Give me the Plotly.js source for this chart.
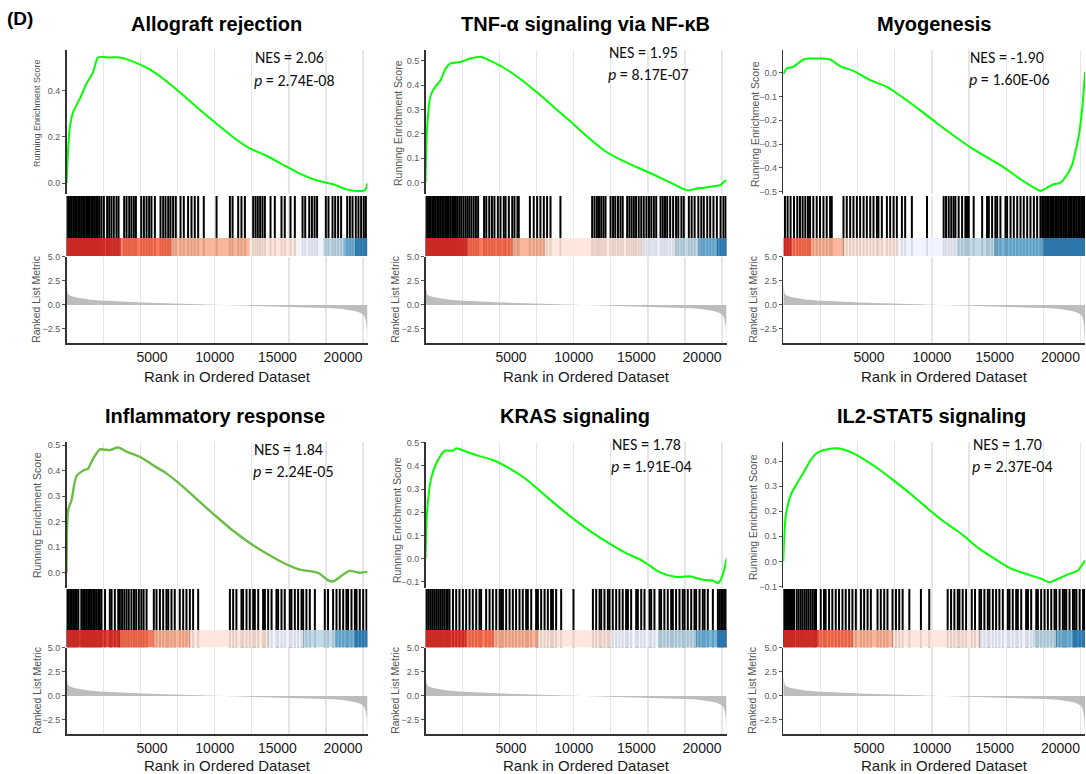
<!DOCTYPE html>
<html><head><meta charset="utf-8">
<script src="https://cdn.plot.ly/plotly-3.0.1.min.js"></script>
<style>html,body{margin:0;padding:0;background:#fff;}#chart{width:1086px;height:774px;}</style>
</head><body><div id="chart"></div>
<script>
// ---------------- DATA ----------------
const panelLabel = '(D)';
const titles = ['Allograft rejection', 'TNF-α signaling via NF-κB', 'Myogenesis',
                'Inflammatory response', 'KRAS signaling', 'IL2-STAT5 signaling'];
const nesValues = ['2.06', '1.95', '-1.90', '1.84', '1.78', '1.70'];
const pValues = ['2.74E-08', '8.17E-07', '1.60E-06', '2.24E-05', '1.91E-04', '2.37E-04'];
const nGenes = 20300;
const rankTickLabels = ['5000', '10000', '15000', '20000'];
const rankTickPos = [5770, 10000, 14220, 18650];
const esAxisTitle = 'Running Enrichment Score';
const rlmAxisTitle = 'Ranked List Metric';
const rankAxisTitle = 'Rank in Ordered Dataset';
const rlmTicks = [-2.5, 0, 2.5, 5];

// ranked list metric (shared gene list)
const metricRank = [0, 30, 80, 150, 300, 600, 1000, 1500, 2250, 3400, 4500, 5600, 6700, 7600, 8400, 9000, 9600, 10400, 11000, 11500, 12500, 13500, 14600, 15700, 16500, 17200, 18000, 18600, 19100, 19500, 19800, 20000, 20100, 20180, 20240, 20280, 20300];
const metricValue = [2.2, 1.6, 1.25, 1.05, 0.93, 0.8, 0.68, 0.57, 0.46, 0.36, 0.28, 0.22, 0.17, 0.13, 0.09, 0.05, 0.02, -0.02, -0.05, -0.08, -0.11, -0.14, -0.17, -0.21, -0.25, -0.29, -0.35, -0.42, -0.52, -0.65, -0.82, -1.0, -1.2, -1.6, -2.2, -3.0, -3.9];

// running enrichment scores
const esRank1 = [0, 225, 450, 900, 1350, 1800, 2135, 2920, 3600, 4500, 5620, 6740, 7870, 8990, 10120, 11240, 12360, 13490, 14610, 15740, 16860, 17980, 18880, 19560, 20120, 20300];
const esScore1 = [0, 0.242, 0.307, 0.365, 0.43, 0.481, 0.543, 0.543, 0.543, 0.525, 0.491, 0.44, 0.38, 0.317, 0.257, 0.199, 0.151, 0.119, 0.08, 0.042, 0.013, -0.004, -0.026, -0.033, -0.03, 0.0];
const esRank2 = [0, 112, 337, 674, 1010, 1350, 1686, 2360, 3035, 3710, 4380, 5280, 6400, 7530, 8650, 9780, 10900, 12030, 13150, 14270, 15400, 16520, 17650, 18320, 18770, 19450, 19900, 20190, 20300];
const esScore2 = [0, 0.23, 0.356, 0.395, 0.42, 0.468, 0.49, 0.496, 0.51, 0.517, 0.5, 0.472, 0.426, 0.37, 0.311, 0.251, 0.189, 0.133, 0.094, 0.063, 0.032, 0.0, -0.032, -0.024, -0.021, -0.015, -0.01, 0.007, 0.008];
const esRank3 = [0, 225, 674, 1350, 1800, 2470, 3150, 3820, 4720, 5845, 6970, 8090, 9220, 10340, 11460, 12590, 13710, 14840, 15960, 16860, 17310, 17760, 18210, 18660, 19110, 19450, 19670, 19900, 20120, 20280, 20300];
const esScore3 = [-0.006, 0.018, 0.025, 0.056, 0.06, 0.06, 0.056, 0.028, 0.008, -0.031, -0.059, -0.106, -0.158, -0.212, -0.264, -0.314, -0.356, -0.398, -0.448, -0.483, -0.497, -0.483, -0.469, -0.462, -0.427, -0.384, -0.328, -0.257, -0.144, -0.017, 0.004];
const esRank4 = [0, 112, 337, 674, 1124, 1460, 1686, 2020, 2250, 2920, 3480, 4050, 4945, 5845, 6740, 7870, 8990, 10120, 11240, 12360, 13490, 14610, 15740, 16630, 17080, 17650, 17980, 18660, 19110, 19780, 20300];
const esScore4 = [0, 0.245, 0.284, 0.378, 0.40, 0.408, 0.435, 0.467, 0.483, 0.48, 0.49, 0.474, 0.454, 0.421, 0.389, 0.336, 0.277, 0.219, 0.164, 0.116, 0.075, 0.039, 0.012, 0.004, -0.004, -0.03, -0.034, -0.007, 0.007, 0.0, 0.003];
const esRank5 = [0, 112, 382, 720, 1057, 1281, 1843, 2070, 2740, 3640, 4540, 5665, 6790, 7910, 9040, 10160, 11280, 12410, 13530, 14660, 15780, 16900, 17800, 18700, 19380, 19720, 19940, 20160, 20300];
const esScore5 = [0, 0.209, 0.346, 0.41, 0.447, 0.465, 0.465, 0.476, 0.461, 0.442, 0.425, 0.389, 0.342, 0.281, 0.22, 0.163, 0.111, 0.065, 0.024, -0.01, -0.058, -0.079, -0.076, -0.091, -0.094, -0.105, -0.086, -0.043, 0.0];
const esRank6 = [0, 157, 495, 944, 1394, 1843, 2293, 2967, 3642, 4316, 5215, 6340, 7460, 8590, 9710, 10840, 11960, 13080, 14210, 15330, 16460, 17350, 17920, 18480, 19150, 19830, 20160, 20300];
const esScore6 = [0, 0.177, 0.264, 0.313, 0.357, 0.404, 0.433, 0.447, 0.451, 0.441, 0.415, 0.371, 0.321, 0.268, 0.211, 0.157, 0.111, 0.055, 0.011, -0.029, -0.052, -0.069, -0.083, -0.069, -0.052, -0.036, -0.009, 0.004];

// gene-set hit positions (ranks)
const hits1 = [20,130,240,350,460,570,680,790,900,1010,1120,1230,1340,1450,1560,1670,1780,1890,2000,2110,2220,2360,2520,2740,2880,3030,3190,3370,3510,3890,4050,4230,4380,4540,4680,5040,5220,5400,5575,5730,5960,6340,6520,6680,6860,7010,7190,7370,7690,7910,8200,8430,8650,8880,9260,10120,11020,11200,11580,11800,12030,12590,12750,12900,13060,13220,13380,13760,14050,14500,14720,15110,15400,15920,16100,16370,16550,16730,16900,17490,17670,17940,18120,18320,18520,18930,19110,19290,19510,19690,19870,20050,20190];
const hits2 = [20,130,240,350,460,570,680,790,900,1010,1120,1230,1340,1450,1560,1670,1800,1920,2050,2170,2300,2420,2560,2700,2830,2960,3100,3250,3400,3550,3950,4100,4300,4480,4650,4880,5060,5280,5400,5620,5850,6000,6200,6290,7040,7300,7530,7750,7980,8200,8430,9100,11240,11400,11560,11700,11850,12000,12140,12480,12650,12800,12980,13150,13300,13600,13750,13900,14050,14200,14380,14550,14720,14900,15070,15230,15400,15560,15850,16000,16150,16300,16500,16700,16900,17050,17260,17420,17760,17950,18150,18400,18600,18770,19000,19200,19420,19650,19900,20100,20250];
const hits3 = [110,290,490,720,940,1120,1300,1480,1660,1800,2020,2250,2470,2700,2920,3150,3260,4050,4270,4500,4720,4950,5170,5400,5620,5850,6070,6300,6400,6630,6970,7190,7420,7640,7980,8200,8650,9670,10790,10950,11130,11300,11460,11580,11800,12030,12250,12360,12480,12810,13380,13710,13830,14050,14270,14390,14610,14950,15060,15290,15510,15740,15960,16180,16410,16630,16860,17080,17300,17420,17530,17640,17750,17860,17970,18080,18190,18300,18410,18520,18630,18740,18850,18960,19070,19180,19290,19400,19510,19620,19730,19840,19950,20060,20170,20280];
const hits4 = [30,140,250,360,470,580,690,800,1000,1120,1240,1350,1460,1580,1690,1800,1910,2020,2140,2250,2360,2600,2920,3040,3260,3490,3600,3750,3900,4050,4200,4380,4550,4700,4880,5050,5200,5400,5890,6070,6300,6520,6740,6860,7080,7300,7640,7870,8090,8320,8540,8880,11020,11240,11460,11800,11910,12140,12360,12590,12700,12930,13260,13380,13600,13830,14160,14270,14500,14720,15060,15170,15400,15620,15850,15960,16180,16410,16750,17420,17640,17980,18210,18430,18660,18880,18990,19220,19450,19560,19780,20010,20230];
const hits5 = [45,180,315,450,585,720,855,990,1125,1260,1400,1500,1620,1850,2070,2290,2520,2740,2970,3190,3420,3640,3750,4090,4320,4540,4770,5000,5100,5220,5440,5670,5890,6110,6340,6560,6790,6900,7130,7460,7580,7800,8030,8250,8470,8590,8810,9150,9980,11290,11510,11740,11850,12070,12300,12410,12630,12860,13080,13300,13530,13650,13870,14210,14320,14550,14770,15110,15220,15440,15780,15890,16110,16340,16570,16680,16900,17130,17350,17470,17690,17920,18140,18250,18480,18700,18820,19040,19380,19720,19830,19940,20050,20160,20270];
const hits6 = [45,180,315,450,585,720,900,1030,1170,1300,1440,1570,1700,1840,1980,2110,2200,2520,2740,2850,3080,3300,3530,3750,3980,4200,4430,4650,4880,5220,5440,5670,5890,6340,6560,6790,7010,7350,7580,7800,8030,8480,9260,9820,11060,11290,11510,11740,11850,12070,12300,12680,12900,13200,13310,13530,13760,13870,14100,14320,14540,14770,15110,15220,15440,15670,15780,16010,16340,16460,16680,17020,17130,17350,17580,17800,18030,18250,18360,18590,18810,18930,19040,19260,19490,19600,19720,19940,20170,20290];

// colour-bar block edges (ranks) and block colours
const blockEdges1 = [0, 3710, 7080, 12360, 15510, 17310, 18660, 19450, 20300];
const blockEdges2 = [0, 2810, 5845, 8090, 14610, 16790, 18430, 19670, 20300];
const blockEdges3 = [0, 560, 1910, 4050, 7760, 11690, 14210, 17530, 20300];
const blockEdges4 = [0, 3600, 5845, 8320, 13600, 15960, 18100, 19450, 20300];
const blockEdges5 = [0, 2740, 4650, 7580, 12520, 15670, 18250, 19710, 20300];
const blockEdges6 = [0, 2400, 4650, 7350, 13200, 16790, 18370, 19490, 20300];
const blockColors = ['#DE2D26', '#FB6A4A', '#FCAE91', '#FEE5D9', '#EFF3FF', '#BDD7E7', '#6BAED6', '#3182BD'];

const esRanks = [esRank1, esRank2, esRank3, esRank4, esRank5, esRank6];
const esScores = [esScore1, esScore2, esScore3, esScore4, esScore5, esScore6];
const hitSets = [hits1, hits2, hits3, hits4, hits5, hits6];
const blockEdgeSets = [blockEdges1, blockEdges2, blockEdges3, blockEdges4, blockEdges5, blockEdges6];

// ---------------- LAYOUT / STYLE ----------------
const W = 1086, H = 774;
const fx = p => p / W;
const fy = p => 1 - p / H;
const cols = [[66.5, 367.5], [425.5, 726.5], [783.3, 1085]];
const rows = [
  {es: [50, 194], hits: [196, 256], rlm: [256.7, 343], titleY: 24, xTitleY: 376},
  {es: [441.7, 587.5], hits: [589, 647.5], rlm: [647.7, 734], titleY: 416, xTitleY: 765}
];
const pstyle = [
  {row: 0, col: 0, esRange: [-0.046, 0.575], dtick: 0.2, titleX: 216, nesX: 253, nesY: 57, pY: 80, esTX: 37, esTY: 113, esTS: 9, rlmTX: 36, line: '#00ff00'},
  {row: 0, col: 1, esRange: [-0.047, 0.545], dtick: 0.1, titleX: 585, nesX: 607, nesY: 53, pY: 75, esTX: 398, esTY: 123, esTS: 10.5, rlmTX: 395, line: '#00ff00'},
  {row: 0, col: 2, esRange: [-0.51, 0.096], dtick: 0.1, titleX: 934, nesX: 968, nesY: 57, pY: 79, esTX: 755, esTY: 124, esTS: 10.5, rlmTX: 753, line: '#00ff00'},
  {row: 1, col: 0, esRange: [-0.058, 0.513], dtick: 0.1, titleX: 215, nesX: 252, nesY: 449, pY: 471, esTX: 37, esTY: 515, esTS: 10.5, rlmTX: 37, line: '#6cbd45'},
  {row: 1, col: 1, esRange: [-0.124, 0.504], dtick: 0.1, titleX: 575, nesX: 610, nesY: 444, pY: 466, esTX: 397, esTY: 520, esTS: 10.5, rlmTX: 395, line: '#00ff00'},
  {row: 1, col: 2, esRange: [-0.104, 0.477], dtick: 0.1, titleX: 931, nesX: 971, nesY: 444, pY: 466, esTX: 753, esTY: 517, esTS: 10.5, rlmTX: 752, line: '#00ff00'}
];
const ARIAL = 'Liberation Sans, Arial, sans-serif';
const NESFONT = 'Carlito, Lato, sans-serif';
const gridVals = [];
for (let g = 2500; g < nGenes; g += 2500) gridVals.push(g);

function rgba(hex, a) {
  const n = parseInt(hex.slice(1), 16);
  return `rgba(${(n >> 16) & 255},${(n >> 8) & 255},${n & 255},${a})`;
}

const traces = [];
const layout = {
  width: W, height: H, margin: {l: 0, r: 0, t: 0, b: 0},
  paper_bgcolor: '#fff', plot_bgcolor: 'rgba(0,0,0,0)',
  showlegend: false, annotations: []
};

layout.annotations.push({text: '<b>' + panelLabel + '</b>', xref: 'paper', yref: 'paper', x: fx(5), y: fy(18),
  xanchor: 'left', yanchor: 'middle', showarrow: false, font: {family: ARIAL, size: 19, color: '#000'}});

pstyle.forEach((s, i) => {
  const r = rows[s.row], c = cols[s.col];
  const xn = i + 1;
  const xa = 'x' + (xn === 1 ? '' : xn);
  const yEs = 3 * i + 1, yHit = 3 * i + 2, yRlm = 3 * i + 3;
  const yaEs = 'y' + (yEs === 1 ? '' : yEs), yaHit = 'y' + yHit, yaRlm = 'y' + yRlm;

  layout['xaxis' + (xn === 1 ? '' : xn)] = {
    domain: [fx(c[0]), fx(c[1])], anchor: yaRlm, range: [0, nGenes],
    tickmode: 'array', tickvals: rankTickPos, ticktext: rankTickLabels,
    ticks: 'outside', ticklen: 1, tickcolor: 'rgba(0,0,0,0)',
    tickfont: {family: ARIAL, size: 14, color: '#1a1a1a'},
    showgrid: false, zeroline: false,
    showline: true, linecolor: '#333', linewidth: 1.5,
    minor: {tickmode: 'array', tickvals: gridVals, showgrid: true, gridcolor: '#e6e6e6', gridwidth: 1.2, ticks: ''},
    fixedrange: true
  };
  layout['yaxis' + (yEs === 1 ? '' : yEs)] = {
    domain: [fy(r.es[1]), fy(r.es[0])], anchor: xa, range: s.esRange,
    dtick: s.dtick, tick0: 0, tickformat: '.1f',
    ticks: 'outside', ticklen: 3, tickcolor: '#555', tickwidth: 1,
    tickfont: {family: ARIAL, size: 9, color: '#5a5a5a'},
    showgrid: false, zeroline: false, showline: true, linecolor: '#333', linewidth: 1.5, fixedrange: true
  };
  layout['yaxis' + yHit] = {
    domain: [fy(r.hits[1]), fy(r.hits[0])], anchor: xa, range: [0, 1],
    visible: false, showgrid: false, zeroline: false, fixedrange: true
  };
  layout['yaxis' + yRlm] = {
    domain: [fy(r.rlm[1]), fy(r.rlm[0])], anchor: xa, range: [-3.97, 5.02],
    tickmode: 'array', tickvals: rlmTicks, tickformat: '.1f',
    ticks: 'outside', ticklen: 3, tickcolor: '#555', tickwidth: 1,
    tickfont: {family: ARIAL, size: 9, color: '#5a5a5a'},
    showgrid: false, zeroline: false, showline: true, linecolor: '#333', linewidth: 1.5, fixedrange: true
  };

  // running enrichment score
  traces.push({type: 'scatter', mode: 'lines', x: esRanks[i], y: esScores[i], xaxis: xa, yaxis: yaEs,
    line: {color: s.line, width: i === 3 ? 2.4 : 2, shape: 'spline', smoothing: 0.7}, hoverinfo: 'skip'});

  // hits
  const hx = [], hy = [];
  hitSets[i].forEach(h => { hx.push(h, h, null); hy.push(0, 1, null); });
  traces.push({type: 'scatter', mode: 'lines', x: hx, y: hy, xaxis: xa, yaxis: yaHit,
    line: {color: '#000', width: 2}, hoverinfo: 'skip'});

  // colour bar blocks
  const edges = blockEdgeSets[i];
  for (let b = 0; b < edges.length - 1; b++) {
    traces.push({type: 'scatter', mode: 'lines', xaxis: xa, yaxis: yaHit,
      x: [edges[b], edges[b + 1], edges[b + 1], edges[b], edges[b]], y: [0, 0, 0.3, 0.3, 0],
      fill: 'toself', fillcolor: rgba(blockColors[b], 0.9), line: {width: 0, color: 'rgba(0,0,0,0)'}, hoverinfo: 'skip'});
  }

  // ranked list metric
  traces.push({type: 'scatter', mode: 'lines', x: metricRank, y: metricValue, xaxis: xa, yaxis: yaRlm,
    fill: 'tozeroy', fillcolor: '#bdbdbd', line: {width: 0, color: 'rgba(0,0,0,0)'}, hoverinfo: 'skip'});

  const cx = (c[0] + c[1]) / 2;
  const ann = layout.annotations;
  ann.push({text: '<b>' + titles[i] + '</b>', xref: 'paper', yref: 'paper', x: fx(s.titleX), y: fy(r.titleY),
    xanchor: 'center', yanchor: 'middle', showarrow: false, font: {family: ARIAL, size: 20, color: '#000'}});
  ann.push({text: 'NES = ' + nesValues[i], xref: 'paper', yref: 'paper', x: fx(s.nesX), y: fy(s.nesY),
    xanchor: 'left', yanchor: 'middle', showarrow: false, font: {family: NESFONT, size: 16, color: '#111'}});
  ann.push({text: '<i>p</i> = ' + pValues[i], xref: 'paper', yref: 'paper', x: fx(s.nesX - 1), y: fy(s.pY),
    xanchor: 'left', yanchor: 'middle', showarrow: false, font: {family: NESFONT, size: 16, color: '#111'}});
  ann.push({text: esAxisTitle, xref: 'paper', yref: 'paper', x: fx(s.esTX), y: fy(s.esTY), textangle: -90,
    xanchor: 'center', yanchor: 'middle', showarrow: false, font: {family: ARIAL, size: s.esTS, color: '#555'}});
  ann.push({text: rlmAxisTitle, xref: 'paper', yref: 'paper', x: fx(s.rlmTX), y: fy((r.rlm[0] + r.rlm[1]) / 2), textangle: -90,
    xanchor: 'center', yanchor: 'middle', showarrow: false, font: {family: ARIAL, size: 10.5, color: '#555'}});
  ann.push({text: rankAxisTitle, xref: 'paper', yref: 'paper', x: fx(cx + 10), y: fy(r.xTitleY),
    xanchor: 'center', yanchor: 'middle', showarrow: false, font: {family: ARIAL, size: 15, color: '#1a1a1a'}});
});

Plotly.newPlot('chart', traces, layout, {staticPlot: true, displayModeBar: false});
</script></body></html>
